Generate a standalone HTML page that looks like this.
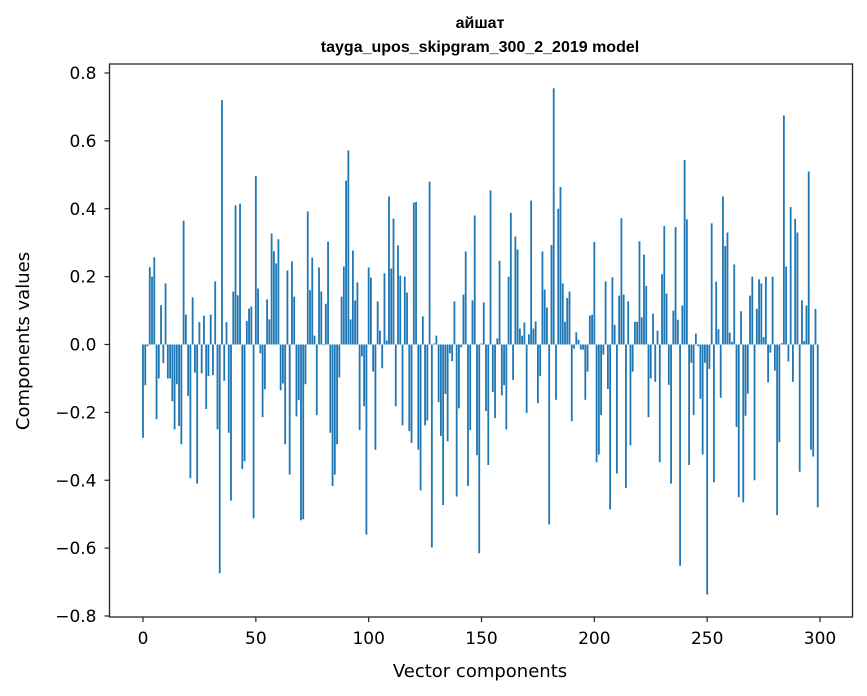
<!DOCTYPE html>
<html><head><meta charset="utf-8"><style>
body{margin:0;background:#fff;}
svg{display:block;font-family:"DejaVu Sans","Liberation Sans",sans-serif;}
</style></head><body>
<svg id="chart" width="867" height="696" viewBox="0 0 867 696" xmlns="http://www.w3.org/2000/svg">
<rect width="867" height="696" fill="#fff"/>
<text x="480" y="28" text-anchor="middle" font-size="16" font-weight="bold" fill="#000" font-family="Liberation Sans, sans-serif">айшат</text>
<text x="480" y="52" text-anchor="middle" font-size="16" font-weight="bold" fill="#000" font-family="Liberation Sans, sans-serif">tayga_upos_skipgram_300_2_2019 model</text>
<g id="bars"></g>
<g id="axes"></g>
<text x="480" y="677" text-anchor="middle" font-size="18" fill="#000">Vector components</text>
<text transform="translate(29,341) rotate(-90)" text-anchor="middle" font-size="18" fill="#000">Components values</text>
</svg>
<script>
const values = [
-0.275,-0.12,-0.005,0.228,0.2,0.257,-0.22,-0.1,0.116,-0.055,
0.18,-0.1,-0.1,-0.167,-0.25,-0.117,-0.24,-0.294,0.365,0.088,
-0.152,-0.394,0.139,-0.083,-0.41,0.066,-0.085,0.085,-0.19,-0.093,
0.088,-0.09,0.186,-0.25,-0.674,0.72,-0.107,0.066,-0.26,-0.46,
0.156,0.41,0.145,0.415,-0.367,-0.344,0.069,0.106,0.112,-0.512,
0.497,0.165,-0.026,-0.214,-0.132,0.133,0.074,0.327,0.275,0.239,
0.31,-0.135,-0.115,-0.294,0.218,-0.383,0.245,0.141,-0.212,-0.164,
-0.518,-0.515,-0.117,0.392,0.16,0.256,0.026,-0.208,0.227,0.156,
-0.002,0.12,0.303,-0.26,-0.417,-0.383,-0.294,-0.097,0.141,0.23,
0.483,0.572,0.074,0.277,0.13,0.183,-0.252,-0.035,-0.182,-0.56,
0.227,0.197,-0.08,-0.31,0.127,0.041,-0.07,0.21,0.012,0.436,
0.224,0.371,-0.182,0.292,0.203,-0.238,0.2,0.153,-0.255,-0.29,
0.418,0.42,-0.31,-0.43,0.083,-0.238,-0.224,0.48,-0.598,0.003,
0.026,-0.17,-0.27,-0.473,-0.146,-0.285,-0.026,-0.049,0.127,-0.448,
-0.188,-0.008,0.147,0.274,-0.417,-0.252,0.13,0.38,-0.326,-0.615,
0.003,0.124,-0.196,-0.355,0.454,-0.14,-0.217,0.018,0.247,-0.15,
-0.12,-0.25,0.2,0.388,-0.105,0.318,0.28,0.047,0.026,0.065,
-0.202,0.03,0.424,0.047,0.068,-0.173,-0.093,0.274,0.162,0.109,
-0.53,0.293,0.755,-0.163,0.4,0.464,0.18,0.067,0.137,0.156,
-0.226,-0.012,0.036,0.014,-0.015,-0.015,-0.163,-0.08,0.085,0.088,
0.302,-0.347,-0.324,-0.208,-0.03,0.186,-0.131,-0.486,0.198,0.058,
-0.38,0.144,0.372,0.147,-0.423,0.127,-0.297,-0.08,0.067,0.067,
0.304,0.08,0.265,0.173,-0.214,-0.1,0.091,-0.11,0.041,-0.347,
0.207,0.349,0.15,-0.119,-0.41,0.1,0.346,0.073,-0.652,0.115,
0.544,0.369,-0.355,-0.054,-0.208,0.032,-0.005,-0.16,-0.324,-0.054,
-0.737,-0.072,0.357,-0.406,0.185,0.045,-0.157,0.436,0.29,0.33,
0.035,0.008,0.236,-0.243,-0.45,0.098,-0.465,-0.21,-0.145,0.144,
0.2,-0.4,0.105,0.192,0.18,0.022,0.2,-0.112,-0.024,0.2,
-0.077,-0.503,-0.288,0.004,0.675,0.23,-0.05,0.405,-0.11,0.37,
0.33,-0.375,0.13,0.01,0.115,0.51,-0.31,-0.33,0.105,-0.48
];
const yTicks = [-0.8,-0.6,-0.4,-0.2,0.0,0.2,0.4,0.6,0.8];
const xTicks = [0,50,100,150,200,250,300];

const NS = "http://www.w3.org/2000/svg";
const L = 109.5, R = 852.5, T = 64, B = 617;
function xs(i){ return 143 + i * (677 / 300); }
function ys(v){ return 344.5 - v * (543 / 1.6); }
const bw = 0.8 * 677 / 300;
const bars = document.getElementById('bars');
values.forEach((v, i) => {
  const r = document.createElementNS(NS, 'rect');
  
  
  const y0 = ys(0), y1 = ys(v);
  r.setAttribute('x', xs(i) - bw / 2);
  r.setAttribute('y', Math.min(y0, y1));
  r.setAttribute('width', bw);
  r.setAttribute('height', Math.max(Math.abs(y1 - y0), 0.3));
  r.setAttribute('fill', '#1f77b4');
  bars.appendChild(r);
});
const axes = document.getElementById('axes');
const frame = document.createElementNS(NS, 'rect');


frame.setAttribute('x', L); frame.setAttribute('y', T);
frame.setAttribute('width', R - L); frame.setAttribute('height', B - T);
frame.setAttribute('fill', 'none'); frame.setAttribute('stroke', '#222'); frame.setAttribute('stroke-width', '1.3');
axes.appendChild(frame);
yTicks.forEach(t => {
  const y = ys(t);
  const ln = document.createElementNS(NS, 'line');
  
  
  ln.setAttribute('x1', L - 5); ln.setAttribute('x2', L); ln.setAttribute('y1', y); ln.setAttribute('y2', y);
  ln.setAttribute('stroke', '#222'); ln.setAttribute('stroke-width', '1.2');
  axes.appendChild(ln);
  const tx = document.createElementNS(NS, 'text');
  
  
  tx.setAttribute('x', L - 13); tx.setAttribute('y', y + 6);
  tx.setAttribute('text-anchor', 'end'); tx.setAttribute('font-size', '17');
  tx.textContent = (t < 0 ? '\u2212' : '') + Math.abs(t).toFixed(1);
  axes.appendChild(tx);
});
xTicks.forEach(t => {
  const x = xs(t);
  const ln = document.createElementNS(NS, 'line');
  
  
  ln.setAttribute('x1', x); ln.setAttribute('x2', x); ln.setAttribute('y1', B); ln.setAttribute('y2', B + 5);
  ln.setAttribute('stroke', '#222'); ln.setAttribute('stroke-width', '1.2');
  axes.appendChild(ln);
  const tx = document.createElementNS(NS, 'text');
  
  
  tx.setAttribute('x', x); tx.setAttribute('y', B + 27);
  tx.setAttribute('text-anchor', 'middle'); tx.setAttribute('font-size', '17');
  tx.textContent = t;
  axes.appendChild(tx);
});
</script>
</body></html>
